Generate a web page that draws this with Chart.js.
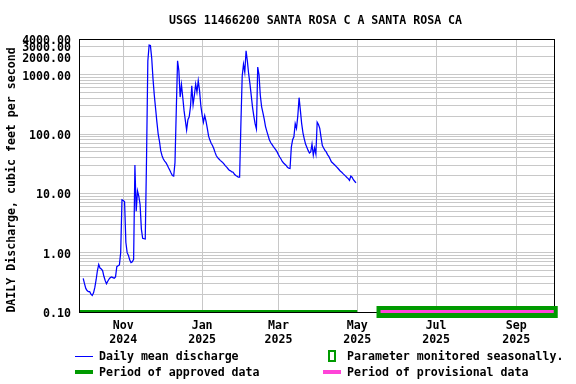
<!DOCTYPE html>
<html><head><meta charset="utf-8">
<script src="https://cdn.jsdelivr.net/npm/chart.js@4/dist/chart.umd.min.js"></script>
<style>html,body{margin:0;padding:0;background:#fff}</style>
</head><body>
<canvas id="c" width="576" height="384"></canvas>
<script>
const FONT = '"DejaVu Sans Mono", "Liberation Mono", monospace';
const titleText = 'USGS 11466200 SANTA ROSA C A SANTA ROSA CA';
const yAxisTitle = 'DAILY Discharge, cubic feet per second';

// Daily mean discharge (cfs), one value per day starting at startDate
const startDate = '2024-10-01';
const dischargeCfs = [
  0.37, 0.30, 0.25, 0.23, 0.22, 0.22, 0.20, 0.19, 0.21, 0.26,
  0.35, 0.50, 0.63, 0.55, 0.53, 0.50, 0.40, 0.34, 0.30, 0.33,
  0.36, 0.38, 0.39, 0.38, 0.37, 0.39, 0.58, 0.60, 0.62, 1.0,
  7.8, 7.6, 7.2, 1.5, 1.0, 0.9, 0.75, 0.68, 0.70, 0.77,
  30, 5, 11, 9, 6.5, 2.5, 1.75, 1.72, 1.7, 40,
  1700, 3150, 3100, 1900, 850, 450, 270, 160, 100, 75,
  52, 43, 38, 35, 33, 30, 27, 24.5, 22, 20,
  19.5, 33, 250, 1720, 1170, 420, 680, 420, 250, 170,
  117, 175, 195, 290, 650, 310, 450, 697, 510, 793,
  540, 300, 210, 158, 205, 165, 125, 92, 79, 70,
  64, 57, 49, 43, 40, 38, 36, 34.5, 33, 31,
  29, 27.7, 26, 24.5, 24, 23, 22.7, 21, 20, 19.5,
  18.7, 18.7, 150, 950, 1500, 1100, 2530, 1700, 1030, 700,
  443, 282, 200, 148, 122, 1350, 1000, 450, 290, 230,
  180, 135, 112, 95, 80, 72, 67, 62, 58, 54,
  50, 45, 41, 38, 34.5, 32.5, 31, 29.5, 27.5, 26.5,
  26.3, 60, 80, 90, 150, 125, 200, 410, 250, 150,
  105, 83, 68, 60, 53, 48, 50, 68, 44, 58,
  46, 158, 145, 125, 88, 64, 58, 53, 50, 45,
  42, 38, 34, 32.5, 31, 29.5, 28, 26.5, 25, 23.5,
  22.7, 21.5, 20.5, 19.5, 18.5, 17.7, 16.5, 19.5, 18.7, 17,
  16, 15
];

const yGridValues = [
  0.1, 0.2, 0.3, 0.4, 0.5, 0.6, 0.7, 0.8, 0.9,
  1, 2, 3, 4, 5, 6, 7, 8, 9,
  10, 20, 30, 40, 50, 60, 70, 80, 90,
  100, 200, 300, 400, 500, 600, 700, 800, 900,
  1000, 2000, 3000, 4000
];
const yLabelValues = [0.1, 1, 10, 100, 1000, 2000, 3000, 4000];

const xAxisRange = ['2024-09-28', '2025-09-30'];
const xTickDates = ['2024-11-01', '2025-01-01', '2025-03-01', '2025-05-01', '2025-07-01', '2025-09-01'];
const xTickLabels = [['Nov', '2024'], ['Jan', '2025'], ['Mar', '2025'], ['May', '2025'], ['Jul', '2025'], ['Sep', '2025']];

const approvedPeriod = ['2024-09-28', '2025-05-01'];
const provisionalPeriod = ['2025-05-19', '2025-09-30'];

const legendLabels = ['Daily mean discharge', 'Period of approved data', 'Parameter monitored seasonally.', 'Period of provisional data'];

const BLUE = '#0000ff', GREEN = '#009a00', MAGENTA = '#ff44d8', GRID = '#c8c8c8';

function dayOf(s) {
  const [y, m, d] = s.split('-').map(Number);
  return (Date.UTC(y, m - 1, d) - Date.UTC(2024, 9, 1)) / 864e5;
}

const decor = {
  id: 'decor',
  afterDraw(chart) {
    const { ctx, chartArea: a, scales: { x } } = chart;
    ctx.save();
    // frame
    ctx.strokeStyle = '#000';
    ctx.lineWidth = 1;
    ctx.strokeRect(a.left + 0.5, a.top + 0.5, a.right - a.left, a.bottom - a.top);
    // approved period bar
    const ax1 = Math.max(x.getPixelForValue(dayOf(approvedPeriod[0])), a.left + 1);
    const ax2 = x.getPixelForValue(dayOf(approvedPeriod[1]));
    ctx.fillStyle = GREEN;
    ctx.fillRect(ax1, a.bottom - 2, ax2 - ax1, 2);
    // seasonal box + provisional period
    const px1 = x.getPixelForValue(dayOf(provisionalPeriod[0]));
    const px2 = x.getPixelForValue(dayOf(provisionalPeriod[1]));
    ctx.fillStyle = GREEN;
    ctx.fillRect(px1 - 4, a.bottom - 6, px2 - px1 + 8, 12);
    ctx.fillStyle = MAGENTA;
    ctx.fillRect(px1, a.bottom - 2, px2 - px1, 3);

    // title
    ctx.fillStyle = '#000';
    ctx.font = 'bold 11.6px ' + FONT;
    ctx.textAlign = 'center';
    ctx.textBaseline = 'alphabetic';
    ctx.fillText(titleText, (a.left + a.right) / 2 - 1, 24);

    // y axis title
    ctx.save();
    ctx.translate(15, 180);
    ctx.rotate(-Math.PI / 2);
    ctx.fillText(yAxisTitle, 0, 0);
    ctx.restore();

    // legend
    ctx.textAlign = 'left';
    ctx.strokeStyle = BLUE;
    ctx.lineWidth = 1;
    ctx.beginPath();
    ctx.moveTo(75, 356.5);
    ctx.lineTo(93, 356.5);
    ctx.stroke();
    ctx.fillStyle = '#000';
    ctx.fillText(legendLabels[0], 99, 360);

    ctx.fillStyle = GREEN;
    ctx.fillRect(75, 370, 18, 4);
    ctx.fillStyle = '#000';
    ctx.fillText(legendLabels[1], 99, 376);

    ctx.fillStyle = GREEN;
    ctx.fillRect(328, 350, 8, 12);
    ctx.fillStyle = '#fff';
    ctx.fillRect(330, 352, 4, 8);
    ctx.fillStyle = '#000';
    ctx.fillText(legendLabels[2], 347, 360);

    ctx.fillStyle = MAGENTA;
    ctx.fillRect(323, 370, 18, 4);
    ctx.fillStyle = '#000';
    ctx.fillText(legendLabels[3], 347, 376);
    ctx.restore();
  }
};

const tickFont = { family: FONT, size: 11.6, weight: 'bold', lineHeight: 1.19 };

new Chart(document.getElementById('c'), {
  type: 'line',
  data: {
    datasets: [{
      label: legendLabels[0],
      data: dischargeCfs.map((v, i) => ({ x: dayOf(startDate) + i, y: v })),
      borderColor: BLUE,
      borderWidth: 1.25,
      pointRadius: 0,
      tension: 0,
      fill: false
    }]
  },
  options: {
    responsive: false,
    animation: false,
    events: [],
    layout: { padding: { top: 39, right: 22, left: 0, bottom: 0 } },
    plugins: { legend: { display: false }, title: { display: false }, tooltip: { enabled: false } },
    scales: {
      x: {
        type: 'linear',
        min: dayOf(xAxisRange[0]) - 0.25,
        max: dayOf(xAxisRange[1]) + 0.2,
        afterBuildTicks: s => { s.ticks = xTickDates.map(d => ({ value: dayOf(d) })); },
        afterFit: s => { s.height = 72; },
        grid: { color: GRID, lineWidth: 1, drawTicks: false },
        border: { display: false },
        ticks: {
          autoSkip: false, maxRotation: 0, minRotation: 0, padding: 7, color: '#000', font: tickFont,
          callback: (v, i) => xTickLabels[i]
        }
      },
      y: {
        type: 'logarithmic',
        min: 0.1,
        max: 4000,
        afterBuildTicks: s => { s.ticks = yGridValues.map(v => ({ value: v })); },
        afterFit: s => { s.width = 79; },
        grid: { color: GRID, lineWidth: 1, drawTicks: false },
        border: { display: false },
        ticks: {
          autoSkip: false, padding: 8, labelOffset: 2, color: '#000', font: tickFont,
          callback: v => yLabelValues.includes(v) ? v.toFixed(2) : ''
        }
      }
    }
  },
  plugins: [decor]
});
</script>
</body></html>
